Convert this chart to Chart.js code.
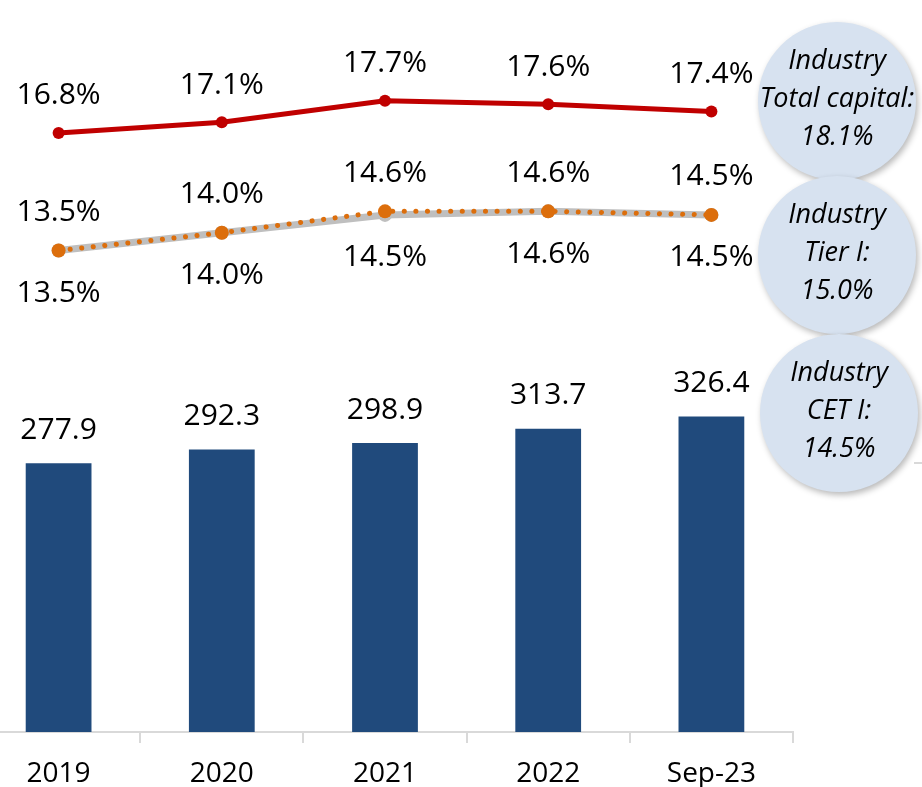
<!DOCTYPE html>
<html>
<head>
<meta charset="utf-8">
<script src="https://cdn.jsdelivr.net/npm/chart.js@4.4.1/dist/chart.umd.min.js"></script>
<style>
  html, body { margin: 0; padding: 0; background: #ffffff; overflow: hidden; }
  #wrap { position: absolute; left: -30px; top: 0; width: 952px; height: 787px; }
</style>
</head>
<body>
<div id="wrap"><canvas id="chart" width="952" height="787"></canvas></div>
<script>
// Periods on the x axis
const categories = ['2019', '2020', '2021', '2022', 'Sep-23'];
// Capital base (bars)
const capitalBase = [277.9, 292.3, 298.9, 313.7, 326.4];
// Capital ratios, %
const totalCapitalRatio = [16.8, 17.1, 17.7, 17.6, 17.4];
const tier1Ratio = [13.5, 14.0, 14.6, 14.6, 14.5];
const cet1Ratio = [13.5, 14.0, 14.5, 14.6, 14.5];
// Industry benchmarks shown in the bubbles on the right
const benchmarkNames = ['Total capital:', 'Tier I:', 'CET I:'];
const benchmarkValues = [18.1, 15.0, 14.5];

const LABEL_FONT = '30px "Open Sans", sans-serif';

// Value labels: offset is the distance of the label centre from the mark
const labelOffsets = { bars: -33, total: -37, tier1: -38, cet1: 43 };

const valueLabels = {
  id: 'valueLabels',
  afterDatasetsDraw(chart) {
    const ctx = chart.ctx;
    ctx.save();
    ctx.font = LABEL_FONT;
    ctx.fillStyle = '#000000';
    ctx.textAlign = 'center';
    ctx.textBaseline = 'middle';
    chart.data.datasets.forEach((ds, di) => {
      const meta = chart.getDatasetMeta(di);
      const off = labelOffsets[ds.labelKey];
      meta.data.forEach((el, i) => {
        const v = ds.data[i];
        const txt = ds.labelKey === 'bars' ? v.toFixed(1) : v.toFixed(1) + '%';
        ctx.fillText(txt, el.x, el.y + off);
      });
    });
    ctx.restore();
  }
};

// Industry benchmark bubbles to the right of the plot
const benchmarkBubbles = {
  id: 'benchmarkBubbles',
  afterDraw(chart) {
    const ctx = chart.ctx;
    const area = chart.chartArea;
    const cx = area.right + 44;
    const centres = [area.top + 94, area.top + 248, area.top + 406];
    const r = 79;
    ctx.save();
    centres.forEach((cy, i) => {
      const x = cx + (i === 2 ? 2 : 0);
      ctx.save();
      ctx.shadowColor = 'rgba(0,0,0,0.28)';
      ctx.shadowBlur = 6;
      ctx.shadowOffsetX = 2;
      ctx.shadowOffsetY = 3;
      ctx.beginPath();
      ctx.arc(x, cy, r, 0, Math.PI * 2);
      ctx.fillStyle = '#d7e2f0';
      ctx.fill();
      ctx.restore();
      ctx.font = 'italic 27px "Open Sans", sans-serif';
      ctx.fillStyle = '#000000';
      ctx.textAlign = 'center';
      ctx.textBaseline = 'middle';
      const lines = ['Industry', benchmarkNames[i], benchmarkValues[i].toFixed(1) + '%'];
      lines.forEach((t, k) => ctx.fillText(t, x, cy - 40 + k * 38));
    });
    // short grey rule at the right edge
    ctx.strokeStyle = '#d9d9d9';
    ctx.lineWidth = 2;
    ctx.beginPath();
    ctx.moveTo(area.right + 121, area.top + 456);
    ctx.lineTo(chart.width, area.top + 456);
    ctx.stroke();
    ctx.restore();
  }
};

new Chart(document.getElementById('chart'), {
  data: {
    labels: categories,
    datasets: [
      {
        type: 'line', labelKey: 'total', data: totalCapitalRatio, yAxisID: 'yPct', order: 1,
        borderColor: '#c00000', backgroundColor: '#c00000', borderWidth: 5,
        pointRadius: 6, pointHoverRadius: 6, pointBorderWidth: 0, tension: 0
      },
      {
        type: 'line', labelKey: 'tier1', data: tier1Ratio, yAxisID: 'yPct', order: 2,
        borderColor: '#dc6e0c', backgroundColor: '#dc6e0c', borderWidth: 5,
        borderDash: [0.1, 11.5], borderCapStyle: 'round',
        pointRadius: 7, pointHoverRadius: 7, pointBorderWidth: 0, tension: 0
      },
      {
        type: 'line', labelKey: 'cet1', data: cet1Ratio, yAxisID: 'yPct', order: 3,
        borderColor: '#bfbfbf', backgroundColor: '#bfbfbf', borderWidth: 7,
        pointRadius: 7, pointHoverRadius: 7, pointBorderWidth: 0, tension: 0
      },
      {
        type: 'bar', labelKey: 'bars', data: capitalBase, yAxisID: 'yBar', order: 4,
        backgroundColor: '#204a7c', barPercentage: 0.403, categoryPercentage: 1
      }
    ]
  },
  options: {
    responsive: false,
    animation: false,
    layout: { padding: { left: 0, right: 129, top: 6, bottom: 0 } },
    plugins: { legend: { display: false }, tooltip: { enabled: false } },
    scales: {
      x: {
        offset: true,
        grid: { display: true, drawOnChartArea: false, drawTicks: true, tickLength: 11, color: '#d9d9d9', lineWidth: 2, offset: true },
        border: { display: true, color: '#d9d9d9', width: 2 },
        ticks: { color: '#000000', font: { family: '"Open Sans", sans-serif', size: 28 }, padding: 14, maxRotation: 0 },
        afterFit(scale) { scale.height = 55; }
      },
      yBar: { display: false, min: 0, max: 750 },
      yPct: { display: false, min: 0, max: 20.33 }
    }
  },
  plugins: [valueLabels, benchmarkBubbles]
});
</script>
</body>
</html>
